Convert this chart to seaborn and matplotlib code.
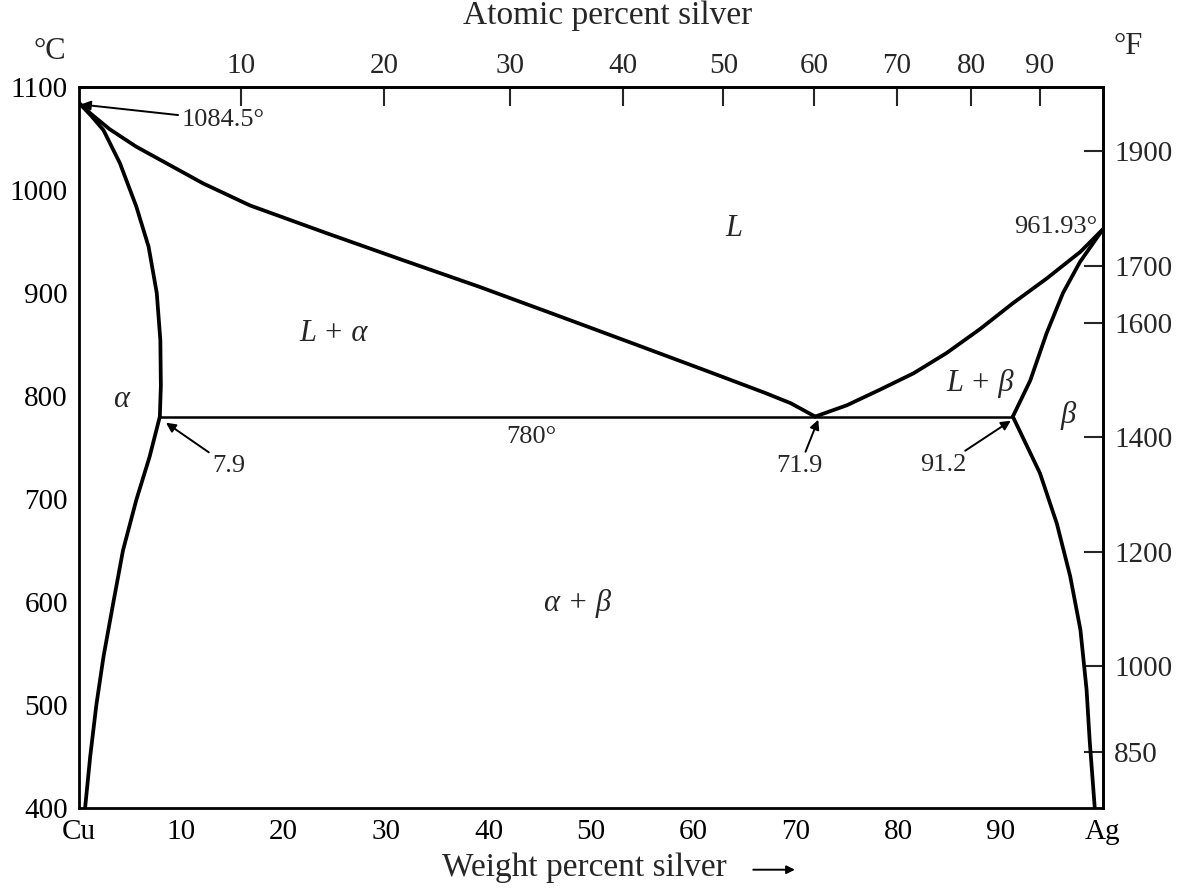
import matplotlib
matplotlib.use("Agg")
import matplotlib.pyplot as plt
import numpy as np
import pandas as pd
import seaborn as sns

# phase boundaries of the Cu-Ag system (weight percent Ag, deg C)
liq_left_wt = [0, 1.1, 3.0, 5.6, 8.9, 12.1, 16.7, 24.2, 31.6, 39.1, 46.6, 54.1, 61.5, 67.0, 69.5, 71.9]
liq_left_T = [1084.5, 1074.5, 1059, 1042, 1024, 1006.5, 985, 958, 932, 906, 878.6, 851, 823.6, 803, 793, 780]

sol_left_wt = [0, 1.2, 2.4, 4.0, 5.6, 6.8, 7.6, 7.95, 8.0, 7.9]
sol_left_T = [1084.5, 1072, 1058, 1026, 984, 945, 900, 854, 810, 780]

solv_left_wt = [7.9, 6.9, 5.6, 4.3, 3.35, 2.4, 1.7, 1.1, 0.6]
solv_left_T = [780, 741, 699, 650, 599, 547, 500, 450, 400]

liq_right_wt = [71.9, 75.0, 78.2, 81.5, 84.7, 88.0, 91.2, 94.5, 97.8, 100]
liq_right_T = [780, 791, 806, 822, 841.5, 865, 890, 914, 940, 961.93]

sol_right_wt = [91.2, 92.9, 94.5, 96.1, 97.75, 100]
sol_right_T = [780, 815, 861, 900, 930, 961.93]

solv_right_wt = [91.2, 93.85, 95.5, 96.8, 97.8, 98.4, 98.7, 99.2]
solv_right_T = [780, 725, 676, 625, 573, 515, 466, 400]

eutectic_wt = [7.9, 91.2]
eutectic_T = [780, 780]

bottom_ticks = [0, 10, 20, 30, 40, 50, 60, 70, 80, 90, 100]
bottom_labels = ["Cu", "10", "20", "30", "40", "50", "60", "70", "80", "90", "Ag"]
atomic_ticks = [10, 20, 30, 40, 50, 60, 70, 80, 90]
left_ticks = [400, 500, 600, 700, 800, 900, 1000, 1100]
fahrenheit_ticks = [850, 1000, 1200, 1400, 1600, 1700, 1900]

M_AG = 107.87
M_CU = 63.55


def wt_to_at(w):
    w = np.asarray(w, dtype=float)
    a = w / M_AG
    c = (100 - w) / M_CU
    return 100 * a / np.where(a + c == 0, 1, a + c)


def at_to_wt(x):
    x = np.asarray(x, dtype=float)
    a = x * M_AG
    c = (100 - x) * M_CU
    return 100 * a / np.where(a + c == 0, 1, a + c)


def c_to_f(t):
    return np.asarray(t, dtype=float) * 9 / 5 + 32


def f_to_c(t):
    return (np.asarray(t, dtype=float) - 32) * 5 / 9


sns.set_style("white")
plt.rcParams["font.family"] = ["Liberation Serif", "DejaVu Serif"]

fig = plt.figure(figsize=(11.8, 8.92), dpi=100)
ax = fig.add_axes([0.0669, 0.0942, 0.8678, 0.8083])

curves = [
    (liq_left_wt, liq_left_T),
    (sol_left_wt, sol_left_T),
    (solv_left_wt, solv_left_T),
    (liq_right_wt, liq_right_T),
    (sol_right_wt, sol_right_T),
    (solv_right_wt, solv_right_T),
]
for xs, ys in curves:
    df = pd.DataFrame({"wt": xs, "T": ys})
    sns.lineplot(data=df, x="wt", y="T", sort=False, estimator=None,
                 color="black", lw=2.7, solid_joinstyle="round", ax=ax)
sns.lineplot(x=eutectic_wt, y=eutectic_T, sort=False, estimator=None,
             color="black", lw=1.8, ax=ax)

ax.set_xlim(0, 100)
ax.set_ylim(400, 1100)
ax.set_xlabel("")
ax.set_ylabel("")
ax.set_xticks(bottom_ticks)
ax.set_xticklabels(bottom_labels)
ax.set_yticks(left_ticks)
ax.tick_params(axis="y", direction="in", length=14, width=1.5, labelsize=21, pad=8, colors="black")
ax.tick_params(axis="x", direction="in", length=12, width=1.5, labelsize=21, pad=8, colors="black")
for s in ax.spines.values():
    s.set_linewidth(2)
    s.set_color("black")

top = ax.secondary_xaxis("top", functions=(wt_to_at, at_to_wt))
top.set_xticks(atomic_ticks)
top.tick_params(direction="in", length=14, width=1.5, labelsize=21, pad=6)
top.spines["top"].set_linewidth(2)

right = ax.secondary_yaxis("right", functions=(c_to_f, f_to_c))
right.set_yticks(fahrenheit_ticks)
right.tick_params(direction="in", length=14, width=1.5, labelsize=21, pad=8)
right.spines["right"].set_linewidth(2)

# phase labels
lab = dict(fontsize=22, style="italic", ha="center", va="center")
ax.text(64.0, 963, "L", **lab)
ax.text(24.9, 861, "L + α", **lab)
ax.text(4.1, 797, "α", **lab)
ax.text(88.0, 812, "L + β", **lab)
ax.text(96.6, 781, "β", **lab)
ax.text(48.7, 599, "α + β", **lab)
ax.text(44.2, 760, "780°", fontsize=19, ha="center", va="center")
ax.text(99.4, 964, "961.93°", fontsize=19, ha="right", va="center")

arrow = dict(arrowstyle="-|>", color="black", lw=1.4, mutation_scale=14, shrinkA=0, shrinkB=0)
ax.annotate("1084.5°", xy=(0.2, 1083), xytext=(10.0, 1068), fontsize=19,
            ha="left", va="center", arrowprops=arrow)
ax.annotate("7.9", xy=(8.5, 774), xytext=(13.0, 732), fontsize=19,
            ha="left", va="center", arrowprops=arrow)
ax.annotate("71.9", xy=(72.2, 777), xytext=(70.4, 732), fontsize=19,
            ha="center", va="center", arrowprops=arrow)
ax.annotate("91.2", xy=(91.0, 776), xytext=(86.7, 733), fontsize=19,
            ha="right", va="center", arrowprops=arrow)

# axis titles
fig.text(0.042, 0.942, "°C", fontsize=22, ha="center", va="center")
fig.text(0.956, 0.948, "°F", fontsize=22, ha="center", va="center")
fig.text(0.515, 0.982, "Atomic percent silver", fontsize=24, ha="center", va="center")
fig.text(0.495, 0.027, "Weight percent silver", fontsize=24, ha="center", va="center")
fig.add_artist(matplotlib.patches.FancyArrowPatch(
    (0.636, 0.025), (0.676, 0.025), transform=fig.transFigure,
    arrowstyle="-|>", mutation_scale=12, lw=1.4, color="black"))

fig.savefig("out.png", dpi=100)
